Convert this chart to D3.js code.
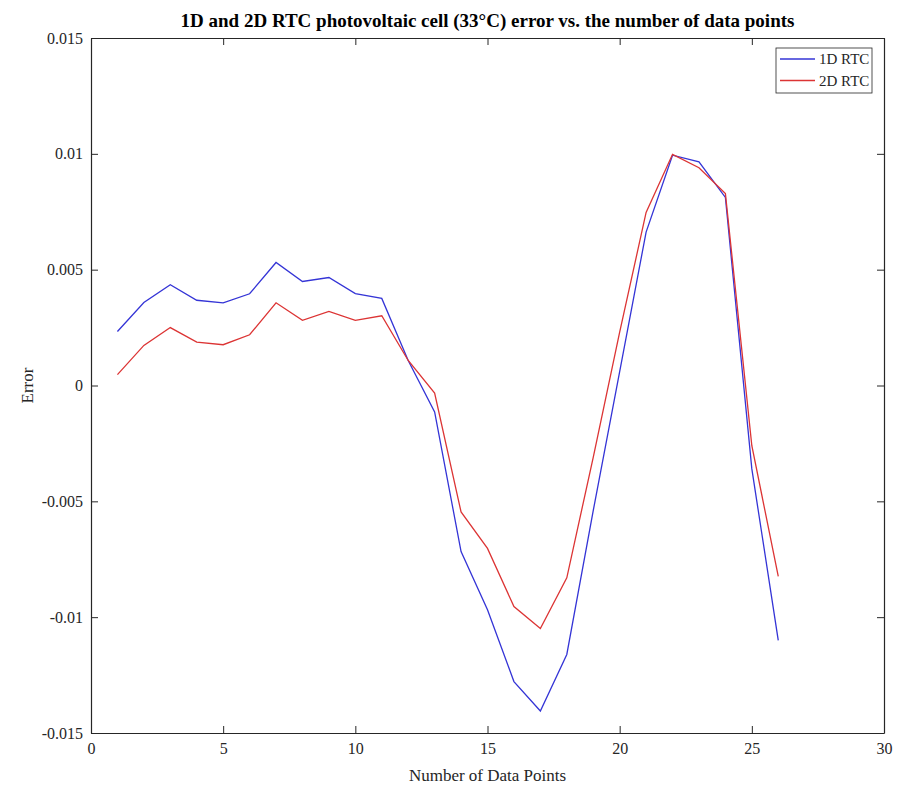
<!DOCTYPE html>
<html>
<head>
<meta charset="utf-8">
<script src="https://cdn.jsdelivr.net/npm/d3@7"></script>
<style>
  body { margin: 0; background: #fff; }
  text { font-family: "Liberation Serif", "Times New Roman", serif; fill: #262626; }
</style>
</head>
<body>
<div id="chart"></div>
<script>
// data
const points = d3.range(1, 27);
const rtc1D = [0.00233, 0.00358, 0.00435, 0.00368, 0.00357, 0.00396, 0.00531, 0.00449, 0.00466, 0.00397,
    0.00376, 0.00108, -0.00114, -0.00717, -0.00968, -0.01278, -0.01405, -0.01161, -0.0054, 0.0006,
    0.00662, 0.00994, 0.00965, 0.00812, -0.0036, -0.0110];
const rtc2D = [0.00047, 0.00173, 0.0025, 0.00187, 0.00176, 0.00219, 0.00357, 0.00281, 0.0032, 0.00281,
    0.00301, 0.00108, -0.00033, -0.00546, -0.00703, -0.00954, -0.01049, -0.0083, -0.0031, 0.0023,
    0.00747, 0.00998, 0.0094, 0.00829, -0.0026, -0.00824];
const xTicks = [0, 5, 10, 15, 20, 25, 30];
const yTicks = [-0.015, -0.01, -0.005, 0, 0.005, 0.01, 0.015];
const seriesNames = ['1D RTC', '2D RTC'];
const seriesColors = ['#3434d6', '#dc3434'];

const width = 898, height = 789;
const margin = { top: 38, right: 14, bottom: 56, left: 91 };
const axisColor = '#262626';

const svg = d3.select('#chart').append('svg')
    .attr('width', width)
    .attr('height', height);

const xScale = d3.scaleLinear().domain([0, 30]).range([margin.left, width - margin.right]);
const yScale = d3.scaleLinear().domain([-0.015, 0.015]).range([height - margin.bottom, margin.top]);

const tickLen = 7;
// matlab style labels, plain hyphen for negatives
const fmtY = d => String(+d.toFixed(3));

// axes with inward ticks (matlab box style)
const bottomAxis = svg.append('g')
    .attr('transform', `translate(0,${height - margin.bottom})`)
    .call(d3.axisBottom(xScale).tickValues(xTicks).tickSizeInner(-tickLen).tickSizeOuter(0).tickPadding(10).tickFormat(d => String(d)));
const topAxis = svg.append('g')
    .attr('transform', `translate(0,${margin.top})`)
    .call(d3.axisTop(xScale).tickValues(xTicks).tickSizeInner(-tickLen).tickSizeOuter(0).tickFormat(''));
const leftAxis = svg.append('g')
    .attr('transform', `translate(${margin.left},0)`)
    .call(d3.axisLeft(yScale).tickValues(yTicks).tickSizeInner(-tickLen).tickSizeOuter(0).tickPadding(8).tickFormat(fmtY));
const rightAxis = svg.append('g')
    .attr('transform', `translate(${width - margin.right},0)`)
    .call(d3.axisRight(yScale).tickValues(yTicks).tickSizeInner(-tickLen).tickSizeOuter(0).tickFormat(''));

[bottomAxis, topAxis, leftAxis, rightAxis].forEach(g => {
    g.select('.domain').attr('stroke', axisColor).attr('stroke-width', 1.2);
    g.selectAll('.tick line').attr('stroke', axisColor);
    g.selectAll('.tick text')
        .attr('fill', axisColor)
        .style('font-family', '"Liberation Serif", "Times New Roman", serif')
        .style('font-size', '16px');
});

// lines
const line = d3.line()
    .x(d => xScale(d[0]))
    .y(d => yScale(d[1]));

[rtc1D, rtc2D].forEach((vals, i) => {
    svg.append('path')
        .datum(points.map((p, j) => [p, vals[j]]))
        .attr('fill', 'none')
        .attr('stroke', seriesColors[i])
        .attr('stroke-width', 1.3)
        .attr('d', line);
});

// title and axis labels
svg.append('text')
    .attr('x', (margin.left + width - margin.right) / 2)
    .attr('y', 27)
    .attr('text-anchor', 'middle')
    .style('font-size', '19px')
    .style('font-weight', 'bold')
    .style('fill', '#000')
    .text('1D and 2D RTC photovoltaic cell (33°C) error vs. the number of data points');

svg.append('text')
    .attr('x', (margin.left + width - margin.right) / 2)
    .attr('y', 781)
    .attr('text-anchor', 'middle')
    .style('font-size', '17px')
    .text('Number of Data Points');

svg.append('text')
    .attr('transform', 'rotate(-90)')
    .attr('x', -yScale(0))
    .attr('y', 33)
    .attr('text-anchor', 'middle')
    .style('font-size', '17px')
    .text('Error');

// legend
const legend = svg.append('g')
    .attr('transform', `translate(776,48)`);

legend.append('rect')
    .attr('width', 96)
    .attr('height', 45)
    .attr('fill', '#fff')
    .attr('stroke', axisColor)
    .attr('stroke-width', 0.8);

const legendItem = legend.selectAll('g.item')
    .data(seriesNames)
    .enter().append('g')
    .attr('class', 'item')
    .attr('transform', (d, i) => `translate(4,${11 + i * 21.5})`);

legendItem.append('line')
    .attr('x1', 0)
    .attr('x2', 35)
    .attr('stroke', (d, i) => seriesColors[i])
    .attr('stroke-width', 1.3);

legendItem.append('text')
    .attr('x', 39)
    .attr('y', 5)
    .style('font-size', '15px')
    .text(d => d);
</script>
</body>
</html>
